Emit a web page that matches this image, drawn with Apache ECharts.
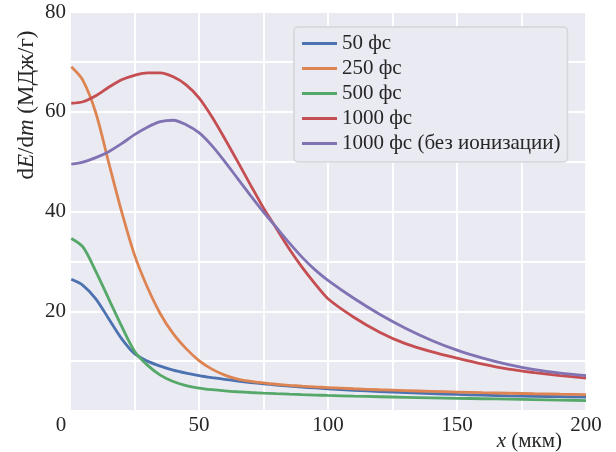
<!DOCTYPE html>
<html>
<head>
<meta charset="utf-8">
<script src="https://cdn.jsdelivr.net/npm/echarts@6/dist/echarts.min.js"></script>
<style>
  html, body { margin: 0; padding: 0; background: #fff; }
  #chart { width: 616px; height: 452px; }
</style>
</head>
<body>
<div id="chart"></div>
<script>
const xs = [0.5, 5, 10, 15, 20, 25, 30, 35, 40, 45, 50, 55, 60, 65, 70, 75, 80, 85, 90, 95, 100, 110, 120, 130, 140, 150, 160, 170, 180, 190, 200];

const names = ['50 фс', '250 фс', '500 фс', '1000 фс', '1000 фс (без ионизации)'];
const colors = ['#4C72B0', '#DD8452', '#55A868', '#C44E52', '#8172B3'];

const fs50 = [26.4, 25.2, 22.5, 18.5, 14.5, 11.5, 10.0, 9.0, 8.2, 7.6, 7.1, 6.7, 6.35, 6.0, 5.7, 5.45, 5.2, 5.0, 4.8, 4.62, 4.45, 4.15, 3.9, 3.68, 3.5, 3.33, 3.18, 3.05, 2.95, 2.87, 2.8];
const fs250 = [69.0, 66.3, 59.8, 49.8, 40.0, 31.3, 24.8, 19.5, 15.5, 12.5, 10.1, 8.4, 7.2, 6.4, 5.95, 5.62, 5.36, 5.15, 4.98, 4.83, 4.7, 4.46, 4.26, 4.09, 3.94, 3.8, 3.67, 3.56, 3.46, 3.37, 3.3];
const fs500 = [34.6, 32.9, 28.0, 22.5, 17.0, 12.0, 9.2, 7.2, 5.9, 5.1, 4.6, 4.28, 4.04, 3.86, 3.71, 3.58, 3.47, 3.37, 3.28, 3.2, 3.12, 2.98, 2.86, 2.75, 2.65, 2.55, 2.46, 2.37, 2.29, 2.2, 2.1];
const fs1000 = [61.7, 62.0, 63.2, 64.9, 66.4, 67.3, 67.8, 67.8, 67.0, 65.4, 62.8, 59.0, 54.6, 50.0, 45.3, 40.7, 36.6, 32.5, 28.8, 25.5, 22.5, 18.8, 15.8, 13.5, 11.9, 10.6, 9.4, 8.4, 7.7, 7.1, 6.6];
const fs1000noIon = [49.5, 49.9, 50.8, 52.0, 53.6, 55.4, 56.9, 58.0, 58.3, 57.4, 55.8, 53.2, 50.0, 46.6, 43.2, 39.9, 36.8, 33.7, 30.8, 28.3, 26.2, 22.6, 19.4, 16.6, 14.2, 12.2, 10.6, 9.3, 8.3, 7.6, 7.1];

const allY = [fs50, fs250, fs500, fs1000, fs1000noIon];

const font = 'Liberation Serif';
const txt = '#262626';

const chart = echarts.init(document.getElementById('chart'));

chart.setOption({
  animation: false,
  color: colors,
  grid: {
    left: 70, right: 30, top: 12, bottom: 37,
    show: true, backgroundColor: '#EAEAF2', borderWidth: 0
  },
  legend: {
    orient: 'vertical',
    left: 294, top: 27,
    padding: [6, 7, 8, 8],
    icon: 'rect',
    itemWidth: 35, itemHeight: 3, itemGap: 4,
    backgroundColor: '#EAEAF2',
    borderColor: '#d4d4da', borderWidth: 1.5, borderRadius: 4,
    textStyle: { fontFamily: font, fontSize: 21, lineHeight: 21, color: txt },
    data: names
  },
  xAxis: {
    type: 'value', min: 0, max: 200, interval: 25,
    axisLine: { show: false }, axisTick: { show: false },
    splitLine: { lineStyle: { color: '#fff', width: 1.8 } },
    axisLabel: {
      margin: 4, fontFamily: font, fontSize: 21, color: txt,
      formatter: v => v === 0 ? '{z|0}' : (v % 50 === 0 ? String(v) : ''),
      rich: { z: { fontFamily: font, fontSize: 21, color: txt, padding: [0, 18, 0, 0] } }
    },
    name: '{i|x} (мкм)',
    nameLocation: 'end', nameGap: -24,
    nameTextStyle: {
      fontFamily: font, fontSize: 21, color: txt,
      align: 'right', verticalAlign: 'top', padding: [20, 0, 0, 0],
      rich: { i: { fontFamily: font, fontSize: 21, fontStyle: 'italic', color: txt } }
    }
  },
  yAxis: {
    type: 'value', min: 0, max: 80, interval: 10,
    axisLine: { show: false }, axisTick: { show: false },
    splitLine: { lineStyle: { color: '#fff', width: 1.8 } },
    axisLabel: {
      margin: 4, fontFamily: font, fontSize: 21, color: txt,
      formatter: v => (v > 0 && v % 20 === 0) ? String(v) : ''
    }
  },
  graphic: [{
    type: 'text',
    x: 27, y: 105,
    rotation: Math.PI / 2,
    style: {
      text: '{r|d}{i|E}{r|/d}{i|m}{r| (МДж/г)}',
      align: 'center', verticalAlign: 'middle',
      rich: {
        r: { fontFamily: font, fontSize: 23, fill: txt },
        i: { fontFamily: font, fontSize: 23, fontStyle: 'italic', fill: txt }
      }
    }
  }],
  series: allY.map((ys, k) => ({
    name: names[k],
    type: 'line',
    smooth: 0.3,
    showSymbol: false,
    symbol: 'none',
    lineStyle: { width: 2.8 },
    data: xs.map((x, i) => [x, ys[i]])
  }))
});
</script>
</body>
</html>
